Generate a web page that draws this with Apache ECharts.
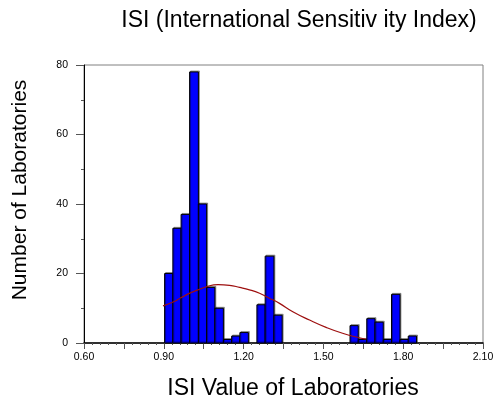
<!DOCTYPE html>
<html>
<head>
<meta charset="utf-8">
<script src="https://cdn.jsdelivr.net/npm/echarts@6/dist/echarts.min.js"></script>
<style>
html,body{margin:0;padding:0;background:#fff;}
#chart{width:500px;height:406px;}
</style>
</head>
<body>
<div id="chart"></div>
<script>
// Histogram bins: left edge, right edge (ISI value), count
const binLeft  = [0.903, 0.934, 0.965, 0.997, 1.030, 1.061, 1.092, 1.124, 1.155, 1.186, 1.250, 1.281, 1.314, 1.600, 1.631, 1.663, 1.694, 1.725, 1.756, 1.788, 1.819];
const binRight = [0.934, 0.965, 0.997, 1.030, 1.061, 1.092, 1.124, 1.155, 1.186, 1.218, 1.281, 1.314, 1.345, 1.631, 1.663, 1.694, 1.725, 1.756, 1.788, 1.819, 1.850];
const counts   = [20, 33, 37, 78, 40, 16, 10, 1, 2, 3, 11, 25, 8, 5, 1, 7, 6, 1, 14, 1, 2];
// Fitted normal curve
const curveX = [0.897, 0.935, 0.964, 0.994, 1.026, 1.060, 1.104, 1.147, 1.185, 1.222, 1.260, 1.297, 1.335, 1.385, 1.448, 1.510, 1.572, 1.635, 1.660];
const curveY = [10.7, 11.8, 13.0, 14.2, 15.2, 16.2, 16.8, 16.6, 16.0, 15.3, 14.3, 12.9, 11.4, 9.0, 6.6, 4.5, 2.8, 1.5, 1.15];
const xTicks = ['0.60', '0.90', '1.20', '1.50', '1.80', '2.10'];
const yTicks = [0, 20, 40, 60, 80];
const titleText = 'ISI (International Sensitiv ity Index)';
const xName = 'ISI Value of Laboratories';
const yName = 'Number of Laboratories';

const FONT = '"Liberation Sans", Arial, sans-serif';
const chart = echarts.init(document.getElementById('chart'), null, {renderer: 'canvas'});

const histData = binLeft.map((l, i) => [l, counts[i], binRight[i]]);
const lineData = curveX.map((x, i) => [x, curveY[i]]);

chart.setOption({
  animation: false,
  backgroundColor: '#fff',
  graphic: [
    {type: 'text', x: 299, y: 21, style: {text: titleText, x: 0, y: 0, align: 'center', verticalAlign: 'middle', font: '23px ' + FONT, fill: '#000'}},
    {type: 'text', x: 293, y: 389, style: {text: xName, x: 0, y: 0, align: 'center', verticalAlign: 'middle', font: '23px ' + FONT, fill: '#000'}},
    {type: 'text', rotation: Math.PI / 2, x: 20, y: 190, style: {text: yName, x: 0, y: 0, align: 'center', verticalAlign: 'middle', font: '21px ' + FONT, fill: '#000'}}
  ],
  grid: {left: 84, right: 17, top: 65, bottom: 63, show: true, borderColor: '#808080', borderWidth: 1},
  xAxis: {
    type: 'value', min: 0.6, max: 2.1, interval: 0.15,
    axisLine: {show: true, onZero: false, lineStyle: {color: '#000', width: 1.5}},
    axisTick: {show: true, length: 6, lineStyle: {color: '#555'}},
    minorTick: {show: true, splitNumber: 5, length: 2, lineStyle: {color: '#555'}},
    splitLine: {show: false},
    axisLabel: {
      fontFamily: FONT, fontSize: 10.5, color: '#000', margin: 9,
      formatter: function (v) {
        const s = v.toFixed(2);
        return xTicks.indexOf(s) >= 0 ? s : '';
      }
    }
  },
  yAxis: {
    type: 'value', min: 0, max: 80, interval: 20,
    axisLine: {show: true, lineStyle: {color: '#000', width: 1}},
    axisTick: {show: true, length: 8, lineStyle: {color: '#555'}},
    minorTick: {show: true, splitNumber: 2, length: 3, lineStyle: {color: '#555'}},
    splitLine: {show: false},
    axisLabel: {
      fontFamily: FONT, fontSize: 10.5, color: '#000', margin: 16,
      formatter: function (v) { return yTicks.indexOf(v) >= 0 ? String(v) : ''; }
    }
  },
  series: [
    {
      type: 'custom',
      data: histData,
      z: 2,
      renderItem: function (params, api) {
        const p0 = api.coord([api.value(0), 0]);
        const p1 = api.coord([api.value(2), api.value(1)]);
        return {
          type: 'rect',
          shape: {x: p0[0], y: p1[1], width: p1[0] - p0[0], height: p0[1] - p1[1]},
          style: {fill: '#0000FF', stroke: '#000', lineWidth: 1, shadowColor: 'rgba(0,0,0,0.35)', shadowOffsetX: 1, shadowOffsetY: -1, shadowBlur: 0}
        };
      }
    },
    {
      type: 'line',
      data: lineData,
      smooth: true,
      symbol: 'none',
      z: 3,
      lineStyle: {color: '#9E1010', width: 1.2}
    }
  ]
});
</script>
</body>
</html>
